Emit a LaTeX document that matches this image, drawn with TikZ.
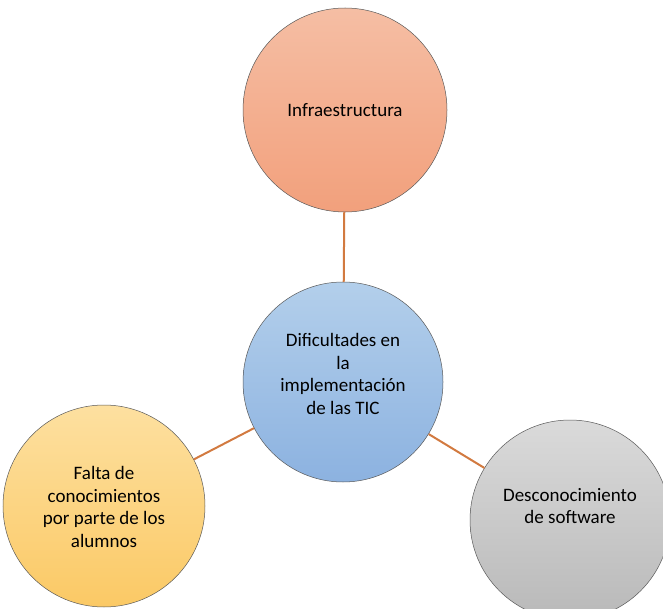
\documentclass[tikz,border=0pt]{standalone}
\usepackage{fontspec}
\setmainfont{Carlito}
\definecolor{salmonA}{HTML}{F5BEA4}
\definecolor{salmonB}{HTML}{F2A07C}
\definecolor{azulA}{HTML}{B3CFEB}
\definecolor{azulB}{HTML}{8CB2E0}
\definecolor{amariA}{HTML}{FDE0A0}
\definecolor{amariB}{HTML}{FBC965}
\definecolor{grisA}{HTML}{DADADA}
\definecolor{grisB}{HTML}{B9B9B9}
\definecolor{enlaceC}{HTML}{D27A40}
\begin{document}
\begin{tikzpicture}[x=1pt,y=1pt,
        burbuja/.style={circle,draw=gray!70!black,line width=.5pt,inner sep=0pt,
            minimum size=#1,align=center,font=\fontsize{19}{22.5}\selectfont},
        enlace/.style={draw=enlaceC,line width=2pt}]
    \useasboundingbox (0,0) rectangle (663,608);
    \node[burbuja=204,top color=salmonA,bottom color=salmonB]
        (infra) at (345,498) {Infraestructura};
    \node[burbuja=200,top color=azulA,bottom color=azulB]
        (dific) at (343,226) {Dificultades en\\la\\implementación\\de las TIC\\[-6pt]};
    \node[burbuja=202,top color=amariA,bottom color=amariB]
        (falta) at (104,102) {Falta de\\conocimientos\\por parte de los\\alumnos\\[-24pt]};
    \node[burbuja=200,top color=grisA,bottom color=grisB]
        (desco) at (570,88) {Desconocimiento\\de software\\[6pt]};
    \foreach \n in {infra,falta,desco}
        \draw[enlace] (dific) -- (\n);
\end{tikzpicture}
\end{document}
